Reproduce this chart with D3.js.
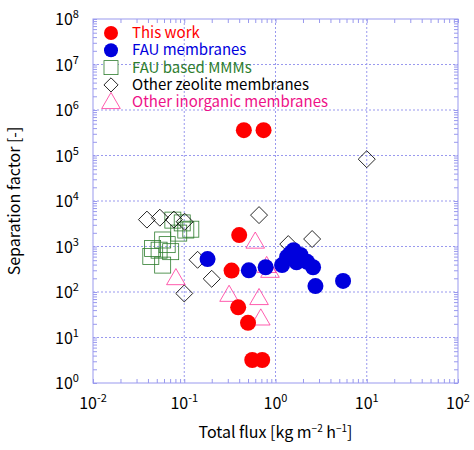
<!DOCTYPE html>
<html><head><meta charset="utf-8">
<script src="https://cdn.jsdelivr.net/npm/d3@7"></script>
<style>body{margin:0;background:#fff;font-family:"Noto Sans CJK JP","DejaVu Sans",sans-serif;}</style>
</head><body>
<script>
// data: [flux, separation factor]
var thisWork = [[0.40,1780],[0.33,295],[0.39,46],[0.50,21],[0.556,3.2],[0.715,3.2],[0.45,3.6e5],[0.74,3.6e5]];
var fauMembranes = [[0.18,530],[0.51,300],[0.78,350],[1.18,390],[1.34,590],[1.58,830],[1.88,650],[2.22,460],[2.58,350],[1.7,450],[2.74,135],[5.5,175],[1.45,700]];
var fauMMMs = [[0.043,600],[0.053,830],[0.058,1390],[0.071,770],[0.058,390],[0.087,1970],[0.104,2300],[0.118,2400],[0.075,3800],[0.095,3300],[0.065,1100],[0.045,900]];
var otherZeolite = [[0.039,3900],[0.054,4300],[0.077,3900],[0.101,3500],[0.14,510],[0.20,195],[0.10,93],[0.66,4900],[1.38,1130],[2.52,1460],[10,83000]];
var otherInorganic = [[0.081,200],[0.60,1270],[0.80,370],[0.87,290],[0.31,86],[0.66,73],[0.69,26]];
var xTicks = [-2,-1,0,1,2];
var yTicks = [0,1,2,3,4,5,6,7,8];

var W = 474, H = 450, m = {l:93, r:16, t:19, b:67};
var svg = d3.select("body").append("svg").attr("width", W).attr("height", H);
var x = d3.scaleLog().domain([1e-2,1e2]).range([m.l, W-m.r]);
var y = d3.scaleLog().domain([1,1e8]).range([H-m.b, m.t]);
var axisCol = "#9999ee";

// grid
svg.selectAll(".gx").data(xTicks.slice(1,-1)).enter().append("line")
  .attr("x1", d => x(Math.pow(10,d))).attr("x2", d => x(Math.pow(10,d)))
  .attr("y1", m.t).attr("y2", H-m.b).attr("stroke", axisCol).attr("stroke-dasharray","2,2");
svg.selectAll(".gy").data(yTicks.slice(1,-1)).enter().append("line")
  .attr("y1", d => y(Math.pow(10,d))).attr("y2", d => y(Math.pow(10,d)))
  .attr("x1", m.l).attr("x2", W-m.r).attr("stroke", axisCol).attr("stroke-dasharray","2,2");

// minor ticks via axes
function styleAxis(g){ g.select(".domain").remove(); g.selectAll("line").attr("stroke", axisCol); g.selectAll("text").remove(); }
var xt = x.ticks(), yt = y.ticks();
svg.append("g").attr("transform","translate(0,"+(H-m.b)+")").call(d3.axisTop(x).tickValues(xt).tickSize(4)).call(styleAxis);
svg.append("g").attr("transform","translate(0,"+m.t+")").call(d3.axisBottom(x).tickValues(xt).tickSize(4)).call(styleAxis);
svg.append("g").attr("transform","translate("+m.l+",0)").call(d3.axisRight(y).tickValues(yt).tickSize(4)).call(styleAxis);
svg.append("g").attr("transform","translate("+(W-m.r)+",0)").call(d3.axisLeft(y).tickValues(yt).tickSize(4)).call(styleAxis);
svg.append("rect").attr("x", m.l).attr("y", m.t).attr("width", W-m.l-m.r).attr("height", H-m.t-m.b)
  .attr("fill","none").attr("stroke", axisCol);

// tick labels
xTicks.forEach(function(e){
  var t = svg.append("text").attr("x", x(Math.pow(10,e))).attr("y", H-m.b+26).attr("text-anchor","middle").attr("font-size",16);
  t.append("tspan").text("10");
  t.append("tspan").attr("dy",-7).attr("font-size",11).text(e);
});
yTicks.forEach(function(e){
  var t = svg.append("text").attr("x", m.l-26).attr("y", y(Math.pow(10,e))+6).attr("text-anchor","middle").attr("font-size",16);
  t.append("tspan").text("10");
  t.append("tspan").attr("dy",-7).attr("font-size",11).text(e);
});

// axis titles
var xl = svg.append("text").attr("x", (m.l+W-m.r)/2).attr("y", H-12).attr("text-anchor","middle").attr("font-size",16);
xl.append("tspan").text("Total flux [kg m");
xl.append("tspan").attr("dy",-6).attr("font-size",10).text("−2");
xl.append("tspan").attr("dy",6).text(" h");
xl.append("tspan").attr("dy",-6).attr("font-size",10).text("−1");
xl.append("tspan").attr("dy",6).text("]");
svg.append("text").attr("transform","translate(20,"+((m.t+H-m.b)/2)+") rotate(-90)")
  .attr("text-anchor","middle").attr("font-size",16).text("Separation factor [-]");

// markers
var tri = d3.symbol().type(d3.symbolTriangle).size(150);
function draw(data, kind){
  var g = svg.append("g");
  data.forEach(function(d){
    var px = x(d[0]), py = y(d[1]);
    if (kind === "red" || kind === "blue")
      g.append("circle").attr("cx",px).attr("cy",py).attr("r",8).attr("fill", kind==="red"?"#ff0000":"#0000dd");
    else if (kind === "sq")
      g.append("rect").attr("x",px-8).attr("y",py-8).attr("width",16).attr("height",16).attr("fill","none").attr("stroke","#2e7d2e").attr("stroke-width",0.8);
    else if (kind === "dia")
      g.append("rect").attr("x",-6).attr("y",-6).attr("width",12).attr("height",12).attr("fill","none").attr("stroke","#000").attr("stroke-width",0.8)
        .attr("transform","translate("+px+","+py+") rotate(45)");
    else
      g.append("path").attr("d", tri).attr("transform","translate("+px+","+(py+1)+")").attr("fill","none").attr("stroke","#ff3399").attr("stroke-width",0.8);
  });
}
draw(fauMMMs,"sq"); draw(otherZeolite,"dia"); draw(otherInorganic,"tri");
draw(fauMembranes,"blue"); draw(thisWork,"red");

// legend
var legend = [["This work","red","#ff0000"],["FAU membranes","blue","#0000dd"],["FAU based MMMs","sq","#2e7d2e"],
              ["Other zeolite membranes","dia","#000"],["Other inorganic membranes","tri","#ee1188"]];
legend.forEach(function(l,i){
  var ly = 33 + i*17.3, lx = 111;
  var g = svg.append("g");
  if (l[1]==="red"||l[1]==="blue") g.append("circle").attr("cx",lx).attr("cy",ly).attr("r",7).attr("fill",l[2]);
  else if (l[1]==="sq") g.append("rect").attr("x",lx-7).attr("y",ly-7).attr("width",14).attr("height",14).attr("fill","#fff").attr("stroke",l[2]).attr("stroke-width",0.8);
  else if (l[1]==="dia") g.append("rect").attr("x",-5).attr("y",-5).attr("width",10).attr("height",10).attr("fill","#fff").attr("stroke","#000").attr("stroke-width",0.8).attr("transform","translate("+lx+","+ly+") rotate(45)");
  else g.append("path").attr("d",tri).attr("transform","translate("+lx+","+(ly+1)+")").attr("fill","#fff").attr("stroke","#ff3399").attr("stroke-width",0.8);
  svg.append("text").attr("x",132).attr("y",ly+5).attr("font-size",15).attr("fill",l[2]).text(l[0]);
});
</script>
</body></html>
